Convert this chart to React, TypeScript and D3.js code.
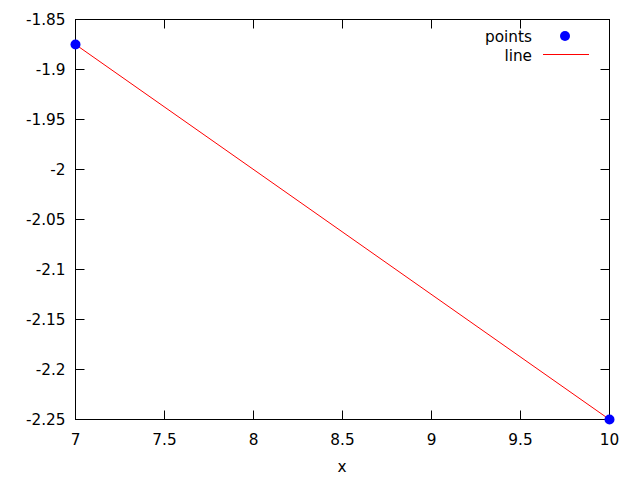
import React from "react";
import * as d3 from "d3";

const pointsX = [7, 10];
const pointsY = [-1.875, -2.25];
const lineX = [7, 10];
const lineY = [-1.875, -2.25];
const xTicks = [7, 7.5, 8, 8.5, 9, 9.5, 10];
const yTicks = [-1.85, -1.9, -1.95, -2, -2.05, -2.1, -2.15, -2.2, -2.25];
const legendLabels = ["points", "line"];

export default function App() {
  const W = 640, H = 480;
  const L = 75.5, R = 609.5, T = 19.5, B = 419.5;
  const x = d3.scaleLinear().domain([7, 10]).range([L, R]);
  const y = d3.scaleLinear().domain([-2.25, -1.85]).range([B, T]);
  const font = "'DejaVu Sans', 'Liberation Sans', sans-serif";
  const fs = 15.3;
  const tl = 9;
  const lineGen = d3.line<number>().x((_, i) => x(lineX[i])).y((d) => y(d));
  return (
    <svg width={W} height={H} style={{ position: "absolute", left: 0, top: 0, background: "#fff" }} fontFamily={font} fontSize={fs}>
      <rect width={W} height={H} fill="#fff" />
      {xTicks.map((t) => (
        <g key={"x" + t}>
          <line x1={x(t)} x2={x(t)} y1={B} y2={B - tl} stroke="#000" />
          <line x1={x(t)} x2={x(t)} y1={T} y2={T + tl} stroke="#000" />
          <text x={x(t)} y={B + 25} textAnchor="middle">{String(t)}</text>
        </g>
      ))}
      {yTicks.map((t) => (
        <g key={"y" + t}>
          <line x1={L} x2={L + tl} y1={y(t)} y2={y(t)} stroke="#000" />
          <line x1={R} x2={R - tl} y1={y(t)} y2={y(t)} stroke="#000" />
          <text x={L - 10} y={y(t) + 5.5} textAnchor="end">{String(t)}</text>
        </g>
      ))}
      <rect x={L} y={T} width={R - L} height={B - T} fill="none" stroke="#000" />
      <path d={lineGen(lineY) || ""} fill="none" stroke="#ff0000" strokeWidth={1} />
      {pointsX.map((px, i) => (
        <circle key={i} cx={x(px)} cy={y(pointsY[i])} r={5} fill="#0000ff" />
      ))}
      <text x={342} y={472} textAnchor="middle">x</text>
      <text x={532} y={41.5} textAnchor="end">{legendLabels[0]}</text>
      <circle cx={565} cy={36} r={5} fill="#0000ff" />
      <text x={532} y={60.5} textAnchor="end">{legendLabels[1]}</text>
      <line x1={543} x2={589} y1={54.5} y2={54.5} stroke="#ff0000" />
    </svg>
  );
}
